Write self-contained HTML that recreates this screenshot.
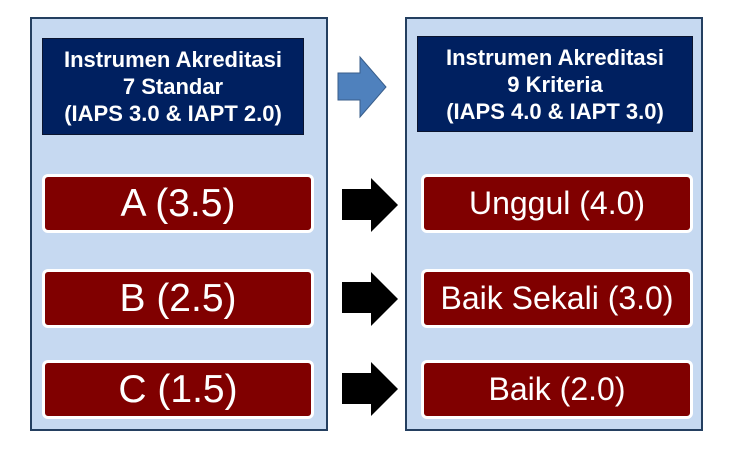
<!DOCTYPE html>
<html><head><style>
body{margin:0;width:731px;height:459px;background:#fff;position:relative;overflow:hidden;font-family:"Liberation Sans",sans-serif}
.panel{position:absolute;background:#c6d9f1;border:2px solid #243f60;box-sizing:border-box}
.hdr{position:absolute;background:#002060;border:1px solid #0a1530;color:#fff;font-weight:bold;font-size:22px;line-height:27px;text-align:center;box-sizing:border-box;display:flex;align-items:center;justify-content:center;white-space:nowrap}
.red{position:absolute;background:#800000;border:3px solid #fff;border-radius:6px;color:#fff;text-align:center;box-sizing:border-box;display:flex;align-items:center;justify-content:center;white-space:nowrap}
.l{font-size:39px}.r{font-size:32px}
svg{position:absolute;left:0;top:0}
</style></head><body>
<div class="panel" style="left:30px;top:17px;width:298px;height:414px"></div>
<div class="panel" style="left:405px;top:17px;width:298px;height:414px"></div>
<div class="hdr" style="left:42px;top:38px;width:262px;height:97px">Instrumen Akreditasi<br>7 Standar<br>(IAPS 3.0 &amp; IAPT 2.0)</div>
<div class="hdr" style="left:417px;top:36px;width:276px;height:96px">Instrumen Akreditasi<br>9 Kriteria<br>(IAPS 4.0 &amp; IAPT 3.0)</div>
<div class="red l" style="left:42px;top:174px;width:272px;height:59px">A (3.5)</div>
<div class="red l" style="left:42px;top:269px;width:272px;height:59px">B (2.5)</div>
<div class="red l" style="left:42px;top:360px;width:272px;height:59px">C (1.5)</div>
<div class="red r" style="left:421px;top:174px;width:272px;height:59px">Unggul (4.0)</div>
<div class="red r" style="left:421px;top:269px;width:272px;height:59px">Baik Sekali (3.0)</div>
<div class="red r" style="left:421px;top:360px;width:272px;height:59px">Baik (2.0)</div>
<svg width="731" height="459">
<polygon points="338,73 360,73 360,57 386,87 360,117 360,100 338,100" fill="#4f81bd" stroke="#385d8a" stroke-width="1"/>
<polygon points="342,189 371,189 371,178 398,205 371,232 371,220 342,220" fill="#000"/>
<polygon points="342,282 371,282 371,272 398,299 371,326 371,313 342,313" fill="#000"/>
<polygon points="342,373 371,373 371,362 398,389 371,416 371,404 342,404" fill="#000"/>
</svg>
</body></html>
